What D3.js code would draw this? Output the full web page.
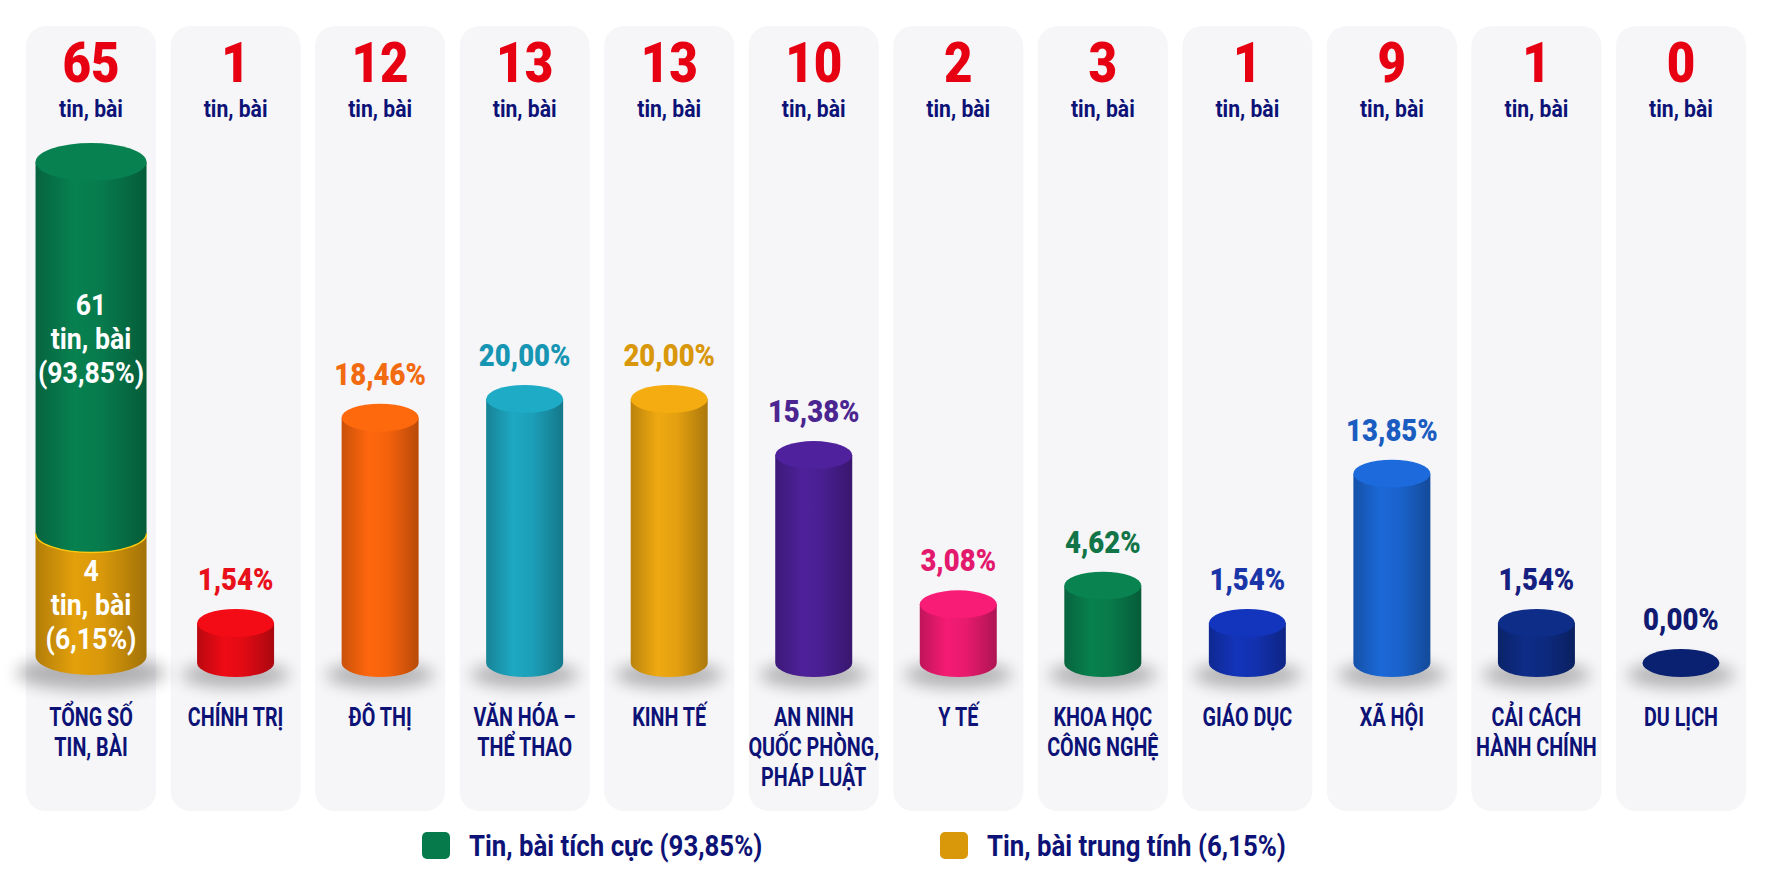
<!DOCTYPE html>
<html>
<head>
<meta charset="utf-8">
<script src="https://cdn.jsdelivr.net/npm/d3@7"></script>
<style>
  html, body { margin: 0; padding: 0; background: #ffffff; }
  svg { display: block; font-family: Roboto, "Noto Sans", sans-serif; }
</style>
</head>
<body>
<div id="chart"></div>
<script>
// chart values
const categories = ["TỔNG SỐ TIN, BÀI", "CHÍNH TRỊ", "ĐÔ THỊ", "VĂN HÓA – THỂ THAO", "KINH TẾ",
  "AN NINH QUỐC PHÒNG, PHÁP LUẬT", "Y TẾ", "KHOA HỌC CÔNG NGHỆ", "GIÁO DỤC", "XÃ HỘI",
  "CẢI CÁCH HÀNH CHÍNH", "DU LỊCH"];
const labelLines = [["TỔNG SỐ", "TIN, BÀI"], ["CHÍNH TRỊ"], ["ĐÔ THỊ"], ["VĂN HÓA –", "THỂ THAO"], ["KINH TẾ"],
  ["AN NINH", "QUỐC PHÒNG,", "PHÁP LUẬT"], ["Y TẾ"], ["KHOA HỌC", "CÔNG NGHỆ"], ["GIÁO DỤC"], ["XÃ HỘI"],
  ["CẢI CÁCH", "HÀNH CHÍNH"], ["DU LỊCH"]];
const counts = [65, 1, 12, 13, 13, 10, 2, 3, 1, 9, 1, 0];
const percents = [100, 1.54, 18.46, 20.00, 20.00, 15.38, 3.08, 4.62, 1.54, 13.85, 1.54, 0.00];
const barColors = ["#077a4c", "#e20a14", "#f5620c", "#1c9fb8", "#e3a010", "#4a1f92", "#e81a6e",
  "#087a4a", "#1231b0", "#1a63cc", "#0d2a80", "#0a2070"];
const pctColors = ["#077a4c", "#e8101a", "#f26b10", "#1796b4", "#d9980c", "#4b2590", "#e3196d",
  "#127548", "#1a35a8", "#1a5cc0", "#152080", "#101a70"];

// split of the total
const toneNames = ["Tin, bài tích cực", "Tin, bài trung tính"];
const toneCounts = [61, 4];
const tonePercents = [93.85, 6.15];
const toneColors = ["#077a4c", "#d8980a"];

const W = 1774, H = 887;
const navy = "#0d1276";
const fmt = v => d3.format(".2f")(v).replace(".", ",");

const svg = d3.select("#chart").append("svg")
  .attr("width", W).attr("height", H);
const defs = svg.append("defs");

defs.append("filter").attr("id", "blur")
  .attr("x", "-50%").attr("y", "-100%").attr("width", "200%").attr("height", "300%")
  .append("feGaussianBlur").attr("stdDeviation", 8);

function makeGrad(id, c) {
  const g = defs.append("linearGradient").attr("id", id)
    .attr("x1", "0%").attr("x2", "100%").attr("y1", "0%").attr("y2", "0%");
  const base = d3.color(c);
  g.append("stop").attr("offset", "0%").attr("stop-color", base.darker(0.55));
  g.append("stop").attr("offset", "35%").attr("stop-color", base.brighter(0.15));
  g.append("stop").attr("offset", "60%").attr("stop-color", base);
  g.append("stop").attr("offset", "100%").attr("stop-color", base.darker(0.8));
}
barColors.forEach((c, i) => makeGrad("g" + i, c));
toneColors.forEach((c, i) => makeGrad("t" + i, c));

const x = d3.scaleBand().domain(categories).range([26, 1746]).paddingInner(0.1);

// heights for category cylinders (a floor for small values, as in the picture)
const minPct = d3.min(percents.slice(1).filter(v => v > 0));
const hCat = d3.scaleLinear().domain([0, minPct, d3.max(percents.slice(1))]).range([0, 40, 264]);
// the total column uses a square-root scale so both parts stay readable
const hTot = d3.scaleSqrt().domain([0, counts[0]]).range([0, 494]);

// panels
svg.selectAll("rect.panel").data(categories).enter().append("rect")
  .attr("class", "panel")
  .attr("x", d => x(d)).attr("y", 26)
  .attr("width", x.bandwidth()).attr("height", 785)
  .attr("rx", 20)
  .attr("fill", "#f6f6f9");

// top counts
svg.selectAll("text.count").data(categories).enter().append("text")
  .attr("class", "count")
  .attr("transform", d => `translate(${x(d) + x.bandwidth() / 2},82) scale(0.88,1)`)
  .attr("text-anchor", "middle")
  .attr("font-size", 56).attr("font-weight", 900).attr("fill", "#e60012")
  .text((d, i) => counts[i]);

svg.selectAll("text.unit").data(categories).enter().append("text")
  .attr("class", "unit")
  .attr("transform", d => `translate(${x(d) + x.bandwidth() / 2},117) scale(0.92,1)`)
  .attr("text-anchor", "middle")
  .attr("font-size", 23).attr("font-weight", 700).attr("fill", navy)
  .text("tin, bài");

function cylBody(cx, rx, ry, yTop, yBot) {
  return `M${cx - rx},${yTop} L${cx - rx},${yBot} A${rx},${ry} 0 0 0 ${cx + rx},${yBot} L${cx + rx},${yTop} Z`;
}

// total column (stacked)
const c0 = x(categories[0]) + x.bandwidth() / 2;
const rx0 = 55.5, ry0 = 19, base0 = 656;
const split0 = base0 - hTot(toneCounts[1]);
const top0 = base0 - hTot(counts[0]);
svg.append("ellipse").attr("cx", c0).attr("cy", base0 + ry0 - 2)
  .attr("rx", rx0 * 1.35).attr("ry", ry0 * 0.9).attr("fill", "#000").attr("opacity", 0.28)
  .attr("filter", "url(#blur)");
svg.append("path").attr("d", cylBody(c0, rx0, ry0, split0, base0)).attr("fill", "url(#t1)");
svg.append("path").attr("d", cylBody(c0, rx0, ry0, top0, split0)).attr("fill", "url(#t0)");
svg.append("path")
  .attr("d", `M${c0 - rx0},${split0} A${rx0},${ry0} 0 0 0 ${c0 + rx0},${split0}`)
  .attr("fill", "none").attr("stroke", d3.color(toneColors[1]).brighter(0.8)).attr("stroke-width", 1.5);
svg.append("ellipse").attr("cx", c0).attr("cy", top0).attr("rx", rx0).attr("ry", ry0)
  .attr("fill", d3.color(toneColors[0]).brighter(0.15));

const inner = [
  { mid: (top0 + split0) / 2, lines: [toneCounts[0], "tin, bài", `(${fmt(tonePercents[0])}%)`] },
  { mid: (split0 + base0) / 2 + ry0, lines: [toneCounts[1], "tin, bài", `(${fmt(tonePercents[1])}%)`] }
];
inner.forEach(seg => {
  seg.lines.forEach((t, k) => {
    svg.append("text")
      .attr("transform", `translate(${c0},${seg.mid - 33 + k * 34}) scale(0.92,1)`)
      .attr("text-anchor", "middle")
      .attr("font-size", 29).attr("font-weight", 700).attr("fill", "#ffffff")
      .text(t);
  });
});

// category cylinders
const rx = 38.5, ry = 14, base = 663;
const cats = categories.slice(1).map((c, j) => ({ c, i: j + 1, v: percents[j + 1] }));

const g = svg.selectAll("g.cyl").data(cats).enter().append("g").attr("class", "cyl");
g.append("ellipse")
  .attr("cx", d => x(d.c) + x.bandwidth() / 2).attr("cy", base + ry - 2)
  .attr("rx", rx * 1.4).attr("ry", ry * 0.9)
  .attr("fill", "#000").attr("opacity", 0.28).attr("filter", "url(#blur)");
g.filter(d => d.v > 0).append("path")
  .attr("d", d => {
    const cx = x(d.c) + x.bandwidth() / 2;
    return cylBody(cx, rx, ry, base - hCat(d.v), base);
  })
  .attr("fill", d => `url(#g${d.i})`);
g.append("ellipse")
  .attr("cx", d => x(d.c) + x.bandwidth() / 2).attr("cy", d => base - hCat(d.v))
  .attr("rx", rx).attr("ry", ry)
  .attr("fill", d => d.v > 0 ? d3.color(barColors[d.i]).brighter(0.2) : barColors[d.i]);

g.append("text")
  .attr("transform", d => `translate(${x(d.c) + x.bandwidth() / 2},${base - hCat(d.v) - ry - 19}) scale(0.86,1)`)
  .attr("text-anchor", "middle")
  .attr("font-size", 32).attr("font-weight", 900)
  .attr("fill", d => pctColors[d.i])
  .text(d => fmt(d.v) + "%");

// category labels
categories.forEach((c, i) => {
  labelLines[i].forEach((t, k) => {
    svg.append("text")
      .attr("transform", `translate(${x(c) + x.bandwidth() / 2},${726 + k * 30}) scale(0.76,1)`)
      .attr("text-anchor", "middle")
      .attr("font-size", 26).attr("font-weight", 700).attr("fill", navy)
      .text(t);
  });
});

// legend
const legX = [422, 940];
const leg = svg.selectAll("g.leg").data(toneNames).enter().append("g").attr("class", "leg");
leg.append("rect")
  .attr("x", (d, i) => legX[i]).attr("y", 832)
  .attr("width", 28).attr("height", 27).attr("rx", 5)
  .attr("fill", (d, i) => toneColors[i]);
leg.append("text")
  .attr("transform", (d, i) => `translate(${legX[i] + 47},856) scale(0.89,1)`)
  .attr("font-size", 29).attr("font-weight", 700).attr("fill", navy)
  .text((d, i) => `${d} (${fmt(tonePercents[i])}%)`);
</script>
</body>
</html>
